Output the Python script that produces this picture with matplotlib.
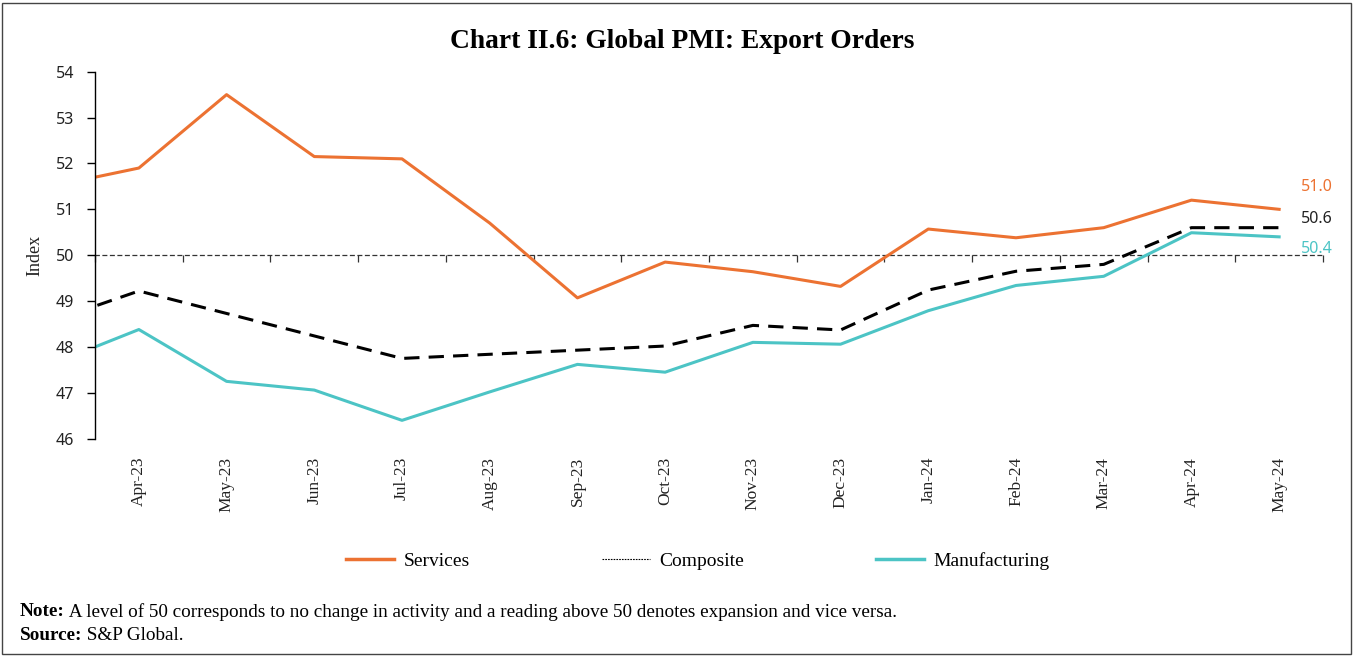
import numpy as np
import matplotlib.pyplot as plt
from matplotlib.lines import Line2D
from matplotlib.patches import Rectangle

# Mar-23 is only partly visible at the left edge of the plot
months = ["Mar-23", "Apr-23", "May-23", "Jun-23", "Jul-23", "Aug-23", "Sep-23", "Oct-23",
          "Nov-23", "Dec-23", "Jan-24", "Feb-24", "Mar-24", "Apr-24", "May-24"]
services = [51.5, 51.9, 53.5, 52.15, 52.1, 50.7, 49.07, 49.85, 49.64, 49.32, 50.57, 50.38, 50.6, 51.2, 51.0]
composite = [48.56, 49.22, 48.73, 48.24, 47.75, 47.84, 47.93, 48.02, 48.47, 48.37, 49.24, 49.65, 49.8, 50.6, 50.6]
manufacturing = [47.62, 48.38, 47.25, 47.06, 46.4, 47.02, 47.62, 47.45, 48.1, 48.06, 48.79, 49.34, 49.54, 50.49, 50.4]

orange = "#EC7232"
teal = "#4CC4C5"
serif = "Liberation Serif"
sans = "Noto Sans"

fig = plt.figure(figsize=(13.54, 6.56), dpi=100)
ax = fig.add_axes([95 / 1354, 1 - 438.7 / 656, (1323 - 95) / 1354, (438.7 - 71.7) / 656])

x = np.arange(len(months))
ax.plot(x, services, color=orange, lw=2.2, label="Services")
ax.plot(x, composite, color="black", lw=2.2, ls=(0, (5, 3)), label="Composite")
ax.plot(x, manufacturing, color=teal, lw=2.2, label="Manufacturing")

ax.set_xlim(0.5, len(months) - 0.5)
ax.set_ylim(46, 54)
ax.set_yticks(range(46, 55))
ax.set_xticks(x[1:], months[1:], rotation=90, fontfamily=serif, fontsize=12.5, color="#222222")
ax.tick_params(axis="x", length=0, pad=13)
ax.tick_params(axis="y", direction="out", length=6, width=1, pad=9, labelsize=11.5, labelcolor="#222222")
for lab in ax.get_yticklabels():
    lab.set_fontfamily(sans)

for s in ["top", "right", "bottom"]:
    ax.spines[s].set_visible(False)
ax.spines["left"].set_linewidth(1)

ax.set_ylabel("Index", fontfamily=serif, fontsize=13, labelpad=9, color="#222222")

# dashed category axis crossing at 50
secax = ax.secondary_xaxis(50, transform=ax.transData)
secax.set_alignment("bottom")
secax.set_xticks(np.arange(0.5, len(months), 1))
secax.tick_params(axis="x", direction="out", length=5, width=0.9, color="#333333", labelbottom=False, labeltop=False)
secax.spines["bottom"].set_linestyle((0, (3, 3)))
secax.spines["bottom"].set_linewidth(0.9)
secax.spines["bottom"].set_color("#333333")
secax.spines["top"].set_visible(False)

# end labels
ax.annotate(f"{services[-1]:.1f}", xy=(x[-1], services[-1]), xytext=(16, 16), textcoords="offset points",
            color=orange, fontsize=11.5, fontfamily=sans, va="center", annotation_clip=False)
ax.annotate(f"{composite[-1]:.1f}", xy=(x[-1], composite[-1]), xytext=(16, 6), textcoords="offset points",
            color="#222222", fontsize=11.5, fontfamily=sans, va="center", annotation_clip=False)
ax.annotate(f"{manufacturing[-1]:.1f}", xy=(x[-1], manufacturing[-1]), xytext=(16, -9), textcoords="offset points",
            color=teal, fontsize=11.5, fontfamily=sans, va="center", annotation_clip=False)

fig.text(0.504, 1 - 42 / 656, "Chart II.6: Global PMI: Export Orders", ha="center", va="center",
         fontfamily=serif, fontweight="bold", fontsize=19.8)

handles = [Line2D([], [], color=orange, lw=2.5),
           Line2D([], [], color="black", lw=0.8, ls=(0, (1.5, 1))),
           Line2D([], [], color=teal, lw=2.5)]
fig.legend(handles, ["Services", "Composite", "Manufacturing"], loc="center",
           bbox_to_anchor=(0.5155, 1 - 561 / 656), ncol=3, frameon=False,
           prop={"family": serif, "size": 14}, handlelength=2.45, handletextpad=0.5, columnspacing=6.8)

note = fig.text(20 / 1354, 1 - 612 / 656, "Note:", fontfamily=serif, fontweight="bold", fontsize=13.8, va="center")
fig.text(20 / 1354, 1 - 636 / 656, "Source:", fontfamily=serif, fontweight="bold", fontsize=13.8, va="center")
fig.canvas.draw()
r = fig.canvas.get_renderer()
for t, rest in [(note, " A level of 50 corresponds to no change in activity and a reading above 50 denotes expansion and vice versa."),
                (fig.texts[-1], " S&P Global.")]:
    bb = t.get_window_extent(r)
    fig.text(bb.x1 / fig.bbox.width, t.get_position()[1], rest, fontfamily=serif, fontsize=13.8, va="center")

fig.patches.append(Rectangle((2 / 1354, 2 / 656), 1349 / 1354, 651 / 656, transform=fig.transFigure,
                             fill=False, edgecolor="#444444", lw=1))

fig.savefig("out.png", dpi=100)
